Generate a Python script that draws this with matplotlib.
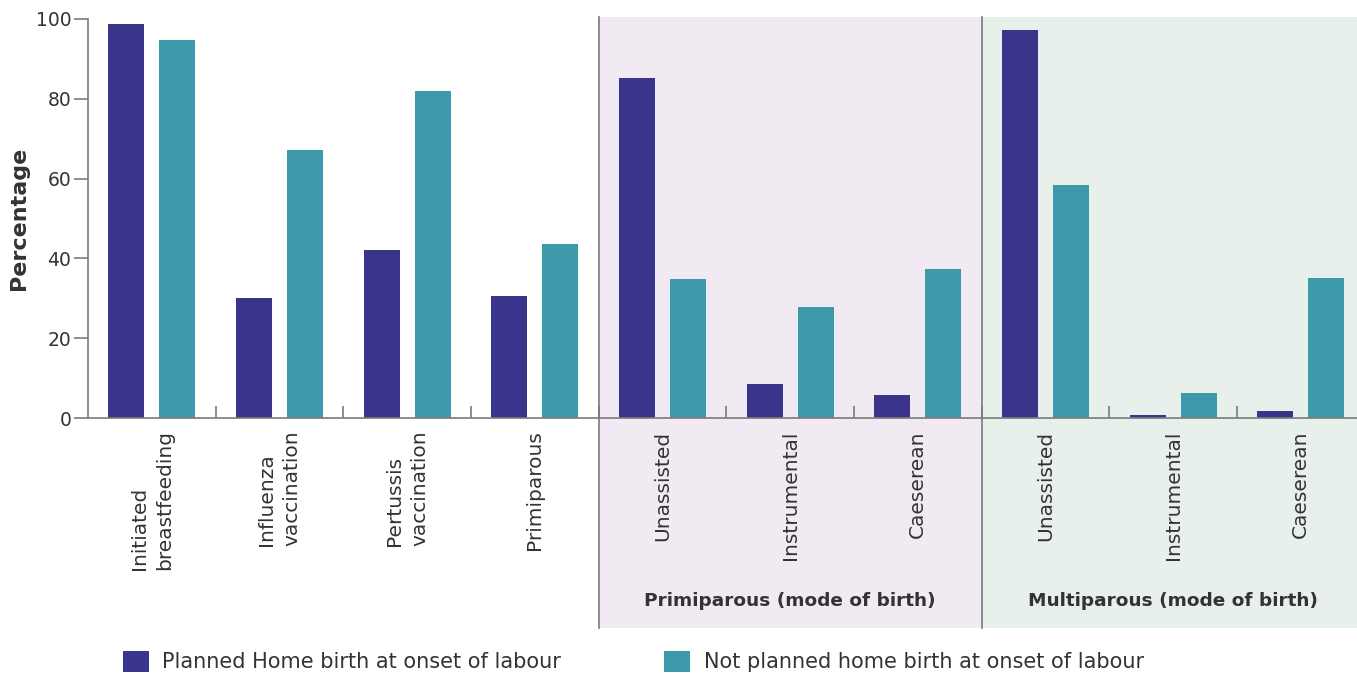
import numpy as np
import matplotlib.pyplot as plt
from matplotlib.ticker import FixedLocator

# values (percent)
categories = ["Initiated\nbreastfeeding", "Influenza\nvaccination", "Pertussis\nvaccination",
              "Primiparous", "Unassisted", "Instrumental", "Caeserean",
              "Unassisted", "Instrumental", "Caeserean"]
planned_home = [98.7, 30.1, 42.1, 30.6, 85.2, 8.5, 5.8, 97.2, 0.8, 1.8]
not_planned = [94.7, 67.2, 82.0, 43.6, 34.8, 27.8, 37.3, 58.4, 6.3, 35.1]
groups = ["Primiparous (mode of birth)", "Multiparous (mode of birth)"]
group_spans = [(3.5, 6.5), (6.5, 9.5)]
group_colors = ["#f1eaf2", "#e8f0ec"]

purple = "#3a358a"
teal = "#3c9aab"
grey = "#7a7a7a"
text_col = "#333333"

plt.rcParams["font.family"] = ["DejaVu Sans"]

fig = plt.figure(figsize=(13.57, 6.75), dpi=100)
ax = fig.add_axes([88 / 1357, 257 / 675, 1 - 88 / 1357, 399 / 675])

x = np.arange(len(categories))
b1 = ax.bar(x - 0.2, planned_home, width=0.28, color=purple, zorder=3,
            label="Planned Home birth at onset of labour")
b2 = ax.bar(x + 0.2, not_planned, width=0.28, color=teal, zorder=3,
            label="Not planned home birth at onset of labour")

# shaded panels for the mode-of-birth groups, running below the axis
for (lo, hi), col, name in zip(group_spans, group_colors, groups):
    ax.axvspan(lo, hi, ymin=-0.526, ymax=1.005, color=col, clip_on=False, zorder=0, lw=0)
    ax.axvline(lo, ymin=-0.526, ymax=1.005, color=grey, lw=1.2, clip_on=False, zorder=1)
    ax.text((lo + hi) / 2, -0.458, name, transform=ax.get_xaxis_transform(),
            ha="center", va="center", fontsize=13.3, fontweight="bold", color=text_col)

ax.set_xlim(-0.5, 9.44)
ax.set_ylim(0, 100)
ax.set_yticks(range(0, 101, 20))
ax.set_ylabel("Percentage", fontsize=16, fontweight="bold", color=text_col, labelpad=5)

ax.set_xticks(x)
ax.set_xticklabels(categories, rotation=90, fontsize=14.5, color=text_col,
                   va="top", ha="center", multialignment="left", linespacing=1.4)
ax.tick_params(axis="x", which="major", length=0, pad=9)
ax.xaxis.set_minor_locator(FixedLocator(np.arange(0.5, 9, 1.0)))
ax.tick_params(axis="x", which="minor", direction="in", length=9, color=grey, width=1.2)
ax.tick_params(axis="y", length=10, color=grey, width=1.2, labelsize=13.5,
               labelcolor=text_col, pad=2)

for side in ["top", "right"]:
    ax.spines[side].set_visible(False)
for side in ["left", "bottom"]:
    ax.spines[side].set_color(grey)
    ax.spines[side].set_linewidth(1.2)
ax.spines["bottom"].set_zorder(4)

fig.legend(handles=[b1, b2], loc="lower left", bbox_to_anchor=(104 / 1357, -0.024),
           ncol=2, frameon=False, fontsize=15, handlelength=1.25, handleheight=1.2,
           columnspacing=4.95, handletextpad=0.65, labelcolor=text_col)

fig.savefig("out.png", dpi=100)
